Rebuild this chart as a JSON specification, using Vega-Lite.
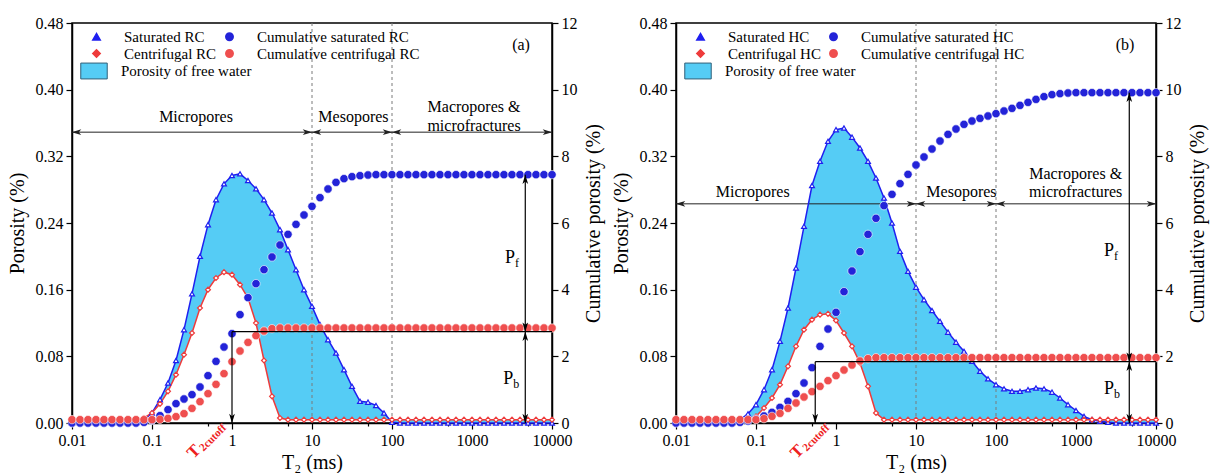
{
"$schema":"https://vega.github.io/schema/vega-lite/v6.json",
"padding":{"left":6,"top":14,"right":2,"bottom":2},
"spacing":6,
"config":{"font":"Liberation Serif","view":{"stroke":"black","strokeWidth":1.5},
 "axis":{"labelFont":"Liberation Serif","titleFont":"Liberation Serif","labelColor":"black","titleColor":"black","domainColor":"black","tickColor":"black","domainWidth":1.5,"tickWidth":1.2,"grid":false,"titleFontWeight":"normal","labelFontSize":16,"titleFontSize":20,"labelOverlap":false,"labelFlush":false},
 "legend":{"labelFont":"Liberation Serif","labelColor":"black","labelFontSize":15,"labelLimit":0}},
"datasets":{
"a":[
{"t":0.01,"s":0,"c":0.004,"cs":0,"cc":0.1},
{"t":0.01259,"s":0,"c":0.004,"cs":0,"cc":0.1},
{"t":0.01585,"s":0,"c":0.004,"cs":0,"cc":0.1},
{"t":0.01995,"s":0,"c":0.004,"cs":0,"cc":0.1},
{"t":0.02512,"s":0,"c":0.004,"cs":0,"cc":0.1},
{"t":0.03162,"s":0,"c":0.004,"cs":0,"cc":0.1},
{"t":0.03981,"s":0,"c":0.004,"cs":0,"cc":0.1},
{"t":0.05012,"s":0,"c":0.004,"cs":0,"cc":0.1},
{"t":0.0631,"s":0,"c":0.004,"cs":0,"cc":0.1},
{"t":0.07943,"s":0.003,"c":0.006,"cs":0.02,"cc":0.1},
{"t":0.1,"s":0.012,"c":0.012,"cs":0.08,"cc":0.1},
{"t":0.1259,"s":0.028,"c":0.023,"cs":0.22,"cc":0.11},
{"t":0.1585,"s":0.048,"c":0.038,"cs":0.4,"cc":0.14},
{"t":0.1995,"s":0.075,"c":0.058,"cs":0.58,"cc":0.19},
{"t":0.2512,"s":0.112,"c":0.082,"cs":0.72,"cc":0.28},
{"t":0.3162,"s":0.155,"c":0.108,"cs":0.85,"cc":0.44},
{"t":0.3981,"s":0.2,"c":0.138,"cs":1.08,"cc":0.64},
{"t":0.5012,"s":0.238,"c":0.16,"cs":1.42,"cc":0.88},
{"t":0.631,"s":0.268,"c":0.174,"cs":1.85,"cc":1.16},
{"t":0.7943,"s":0.287,"c":0.181,"cs":2.28,"cc":1.48},
{"t":1,"s":0.297,"c":0.178,"cs":2.68,"cc":1.84},
{"t":1.259,"s":0.299,"c":0.166,"cs":3.25,"cc":2.16},
{"t":1.585,"s":0.291,"c":0.15,"cs":3.76,"cc":2.42},
{"t":1.995,"s":0.281,"c":0.12,"cs":4.18,"cc":2.62},
{"t":2.512,"s":0.268,"c":0.075,"cs":4.6,"cc":2.76},
{"t":3.162,"s":0.252,"c":0.032,"cs":4.98,"cc":2.83},
{"t":3.981,"s":0.232,"c":0.006,"cs":5.34,"cc":2.85},
{"t":5.012,"s":0.208,"c":0.004,"cs":5.66,"cc":2.85},
{"t":6.31,"s":0.184,"c":0.004,"cs":5.96,"cc":2.85},
{"t":7.943,"s":0.16,"c":0.004,"cs":6.24,"cc":2.85},
{"t":10,"s":0.14,"c":0.004,"cs":6.5,"cc":2.85},
{"t":12.59,"s":0.118,"c":0.004,"cs":6.76,"cc":2.85},
{"t":15.85,"s":0.1,"c":0.004,"cs":7.02,"cc":2.85},
{"t":19.95,"s":0.084,"c":0.004,"cs":7.22,"cc":2.85},
{"t":25.12,"s":0.064,"c":0.004,"cs":7.33,"cc":2.85},
{"t":31.62,"s":0.044,"c":0.004,"cs":7.39,"cc":2.85},
{"t":39.81,"s":0.026,"c":0.004,"cs":7.42,"cc":2.85},
{"t":50.12,"s":0.025,"c":0.004,"cs":7.44,"cc":2.85},
{"t":63.1,"s":0.021,"c":0.004,"cs":7.45,"cc":2.85},
{"t":79.43,"s":0.012,"c":0.004,"cs":7.45,"cc":2.85},
{"t":100,"s":0.001,"c":0.004,"cs":7.45,"cc":2.85},
{"t":125.9,"s":0,"c":0.004,"cs":7.45,"cc":2.85},
{"t":158.5,"s":0,"c":0.004,"cs":7.45,"cc":2.85},
{"t":199.5,"s":0,"c":0.004,"cs":7.45,"cc":2.85},
{"t":251.2,"s":0,"c":0.004,"cs":7.45,"cc":2.85},
{"t":316.2,"s":0,"c":0.004,"cs":7.45,"cc":2.85},
{"t":398.1,"s":0,"c":0.004,"cs":7.45,"cc":2.85},
{"t":501.2,"s":0,"c":0.004,"cs":7.45,"cc":2.85},
{"t":631,"s":0,"c":0.004,"cs":7.45,"cc":2.85},
{"t":794.3,"s":0,"c":0.004,"cs":7.45,"cc":2.85},
{"t":1000,"s":0,"c":0.004,"cs":7.45,"cc":2.85},
{"t":1259,"s":0,"c":0.004,"cs":7.45,"cc":2.85},
{"t":1585,"s":0,"c":0.004,"cs":7.45,"cc":2.85},
{"t":1995,"s":0,"c":0.004,"cs":7.45,"cc":2.85},
{"t":2512,"s":0,"c":0.004,"cs":7.45,"cc":2.85},
{"t":3162,"s":0,"c":0.004,"cs":7.45,"cc":2.85},
{"t":3981,"s":0,"c":0.004,"cs":7.45,"cc":2.85},
{"t":5012,"s":0,"c":0.004,"cs":7.45,"cc":2.85},
{"t":6310,"s":0,"c":0.004,"cs":7.45,"cc":2.85},
{"t":7943,"s":0,"c":0.004,"cs":7.45,"cc":2.85},
{"t":10000,"s":0,"c":0.004,"cs":7.45,"cc":2.85}
],
"b":[
{"t":0.01,"s":0,"c":0.004,"cs":0,"cc":0.1},
{"t":0.01259,"s":0,"c":0.004,"cs":0,"cc":0.1},
{"t":0.01585,"s":0,"c":0.004,"cs":0,"cc":0.1},
{"t":0.01995,"s":0,"c":0.004,"cs":0,"cc":0.1},
{"t":0.02512,"s":0,"c":0.004,"cs":0,"cc":0.1},
{"t":0.03162,"s":0,"c":0.004,"cs":0,"cc":0.1},
{"t":0.03981,"s":0,"c":0.004,"cs":0,"cc":0.1},
{"t":0.05012,"s":0,"c":0.004,"cs":0,"cc":0.1},
{"t":0.0631,"s":0.004,"c":0.004,"cs":0.02,"cc":0.1},
{"t":0.07943,"s":0.011,"c":0.005,"cs":0.06,"cc":0.1},
{"t":0.1,"s":0.022,"c":0.008,"cs":0.12,"cc":0.1},
{"t":0.1259,"s":0.04,"c":0.018,"cs":0.21,"cc":0.13},
{"t":0.1585,"s":0.064,"c":0.03,"cs":0.32,"cc":0.2},
{"t":0.1995,"s":0.098,"c":0.046,"cs":0.47,"cc":0.29},
{"t":0.2512,"s":0.138,"c":0.068,"cs":0.65,"cc":0.44},
{"t":0.3162,"s":0.186,"c":0.092,"cs":0.88,"cc":0.6},
{"t":0.3981,"s":0.236,"c":0.112,"cs":1.2,"cc":0.78},
{"t":0.5012,"s":0.285,"c":0.124,"cs":1.66,"cc":0.94},
{"t":0.631,"s":0.314,"c":0.13,"cs":2.3,"cc":1.1},
{"t":0.7943,"s":0.338,"c":0.131,"cs":2.82,"cc":1.27},
{"t":1,"s":0.352,"c":0.123,"cs":3.32,"cc":1.42},
{"t":1.259,"s":0.354,"c":0.108,"cs":3.94,"cc":1.59},
{"t":1.585,"s":0.343,"c":0.092,"cs":4.56,"cc":1.74},
{"t":1.995,"s":0.33,"c":0.072,"cs":5.14,"cc":1.86},
{"t":2.512,"s":0.314,"c":0.044,"cs":5.66,"cc":1.93},
{"t":3.162,"s":0.294,"c":0.012,"cs":6.14,"cc":1.96},
{"t":3.981,"s":0.27,"c":0.004,"cs":6.52,"cc":1.96},
{"t":5.012,"s":0.24,"c":0.004,"cs":6.86,"cc":1.96},
{"t":6.31,"s":0.206,"c":0.004,"cs":7.18,"cc":1.96},
{"t":7.943,"s":0.182,"c":0.004,"cs":7.46,"cc":1.96},
{"t":10,"s":0.163,"c":0.004,"cs":7.74,"cc":1.96},
{"t":12.59,"s":0.148,"c":0.004,"cs":7.98,"cc":1.96},
{"t":15.85,"s":0.135,"c":0.004,"cs":8.22,"cc":1.96},
{"t":19.95,"s":0.122,"c":0.004,"cs":8.46,"cc":1.96},
{"t":25.12,"s":0.109,"c":0.004,"cs":8.66,"cc":1.96},
{"t":31.62,"s":0.097,"c":0.004,"cs":8.82,"cc":1.96},
{"t":39.81,"s":0.086,"c":0.004,"cs":8.96,"cc":1.96},
{"t":50.12,"s":0.074,"c":0.004,"cs":9.06,"cc":1.96},
{"t":63.1,"s":0.062,"c":0.004,"cs":9.14,"cc":1.96},
{"t":79.43,"s":0.053,"c":0.004,"cs":9.21,"cc":1.96},
{"t":100,"s":0.046,"c":0.004,"cs":9.28,"cc":1.96},
{"t":125.9,"s":0.041,"c":0.004,"cs":9.36,"cc":1.96},
{"t":158.5,"s":0.038,"c":0.004,"cs":9.44,"cc":1.96},
{"t":199.5,"s":0.038,"c":0.004,"cs":9.53,"cc":1.96},
{"t":251.2,"s":0.04,"c":0.004,"cs":9.62,"cc":1.96},
{"t":316.2,"s":0.042,"c":0.004,"cs":9.71,"cc":1.96},
{"t":398.1,"s":0.041,"c":0.004,"cs":9.79,"cc":1.96},
{"t":501.2,"s":0.037,"c":0.004,"cs":9.85,"cc":1.96},
{"t":631,"s":0.03,"c":0.004,"cs":9.88,"cc":1.96},
{"t":794.3,"s":0.022,"c":0.004,"cs":9.9,"cc":1.96},
{"t":1000,"s":0.015,"c":0.004,"cs":9.91,"cc":1.96},
{"t":1259,"s":0.008,"c":0.004,"cs":9.91,"cc":1.96},
{"t":1585,"s":0.004,"c":0.004,"cs":9.91,"cc":1.96},
{"t":1995,"s":0.002,"c":0.004,"cs":9.91,"cc":1.96},
{"t":2512,"s":0.001,"c":0.004,"cs":9.91,"cc":1.96},
{"t":3162,"s":0,"c":0.004,"cs":9.91,"cc":1.96},
{"t":3981,"s":0,"c":0.004,"cs":9.91,"cc":1.96},
{"t":5012,"s":0,"c":0.004,"cs":9.91,"cc":1.96},
{"t":6310,"s":0,"c":0.004,"cs":9.91,"cc":1.96},
{"t":7943,"s":0,"c":0.004,"cs":9.91,"cc":1.96},
{"t":10000,"s":0,"c":0.004,"cs":9.91,"cc":1.96}
]},
"hconcat":[
{"width":480,"height":400,"data":{"name":"a"},
 "layer":[
  {"layer":[
   {"mark":{"type":"area","opacity":1,"strokeWidth":0},
    "encoding":{
     "x":{"field":"t","type":"quantitative","scale":{"type":"log","domain":[0.01,10000],"nice":false},
      "axis":{"title":"T₂ (ms)","values":[0.01,0.05,0.1,0.5,1,5,10,50,100,500,1000,5000,10000],"format":"~g","labelExpr":"abs(log(datum.value)/LN10-round(log(datum.value)/LN10))<0.01 ? datum.label : ''","tickSize":{"condition":{"test":"abs(log(datum.value)/LN10-round(log(datum.value)/LN10))<0.01","value":6},"value":3},"labelPadding":3,"titlePadding":4}},
     "y":{"field":"s","type":"quantitative","scale":{"domain":[0,0.48],"nice":false,"zero":false},
      "axis":{"title":"Porosity (%)","values":[0,0.04,0.08,0.12,0.16,0.2,0.24,0.28,0.32,0.36,0.4,0.44,0.48],"format":".2f","labelExpr":"abs(datum.value/0.08-round(datum.value/0.08))<0.01 ? datum.label : ''","tickSize":{"condition":{"test":"abs(datum.value/0.08-round(datum.value/0.08))<0.01","value":6},"value":3},"labelPadding":3,"titlePadding":8}},
     "y2":{"field":"c"},
     "fill":{"datum":"Porosity of free water","type":"nominal","scale":{"range":["#55ccf5"]},
      "legend":{"orient":"none","legendX":8,"legendY":34,"title":null,"symbolType":"M-1,-0.6H1V0.6H-1Z","symbolSize":700,"symbolStrokeColor":"#2f5f78","symbolStrokeWidth":1,"labelOffset":13,"labelFontSize":15}}}},
   {"data":{"values":[{"t":10},{"t":100}]},
    "mark":{"type":"rule","color":"#7a7a7a","strokeDash":[3,3],"strokeWidth":1},
    "encoding":{"x":{"field":"t","type":"quantitative","scale":{"type":"log","domain":[0.01,10000],"nice":false}}}},
   {"data":{"values":[{"t":0.01,"t2":10,"y":0.349},{"t":10,"t2":100,"y":0.349},{"t":100,"t2":10000,"y":0.349}]},
    "mark":{"type":"rule","color":"#222","strokeWidth":1},
    "encoding":{"x":{"field":"t","type":"quantitative","scale":{"type":"log","domain":[0.01,10000],"nice":false}},"x2":{"field":"t2"},
     "y":{"field":"y","type":"quantitative","scale":{"domain":[0,0.48],"nice":false,"zero":false}}}},
   {"data":{"values":[{"t":10,"y":0.349},{"t":100,"y":0.349},{"t":10000,"y":0.349}]},
    "mark":{"type":"point","shape":"M1,0L-1,-0.6L-0.5,0L-1,0.6Z","size":90,"filled":true,"color":"#222","opacity":1,"xOffset":-4.5},
    "encoding":{"x":{"field":"t","type":"quantitative","scale":{"type":"log","domain":[0.01,10000],"nice":false}},
     "y":{"field":"y","type":"quantitative","scale":{"domain":[0,0.48],"nice":false,"zero":false}}}},
   {"data":{"values":[{"t":0.01,"y":0.349},{"t":10,"y":0.349},{"t":100,"y":0.349}]},
    "mark":{"type":"point","shape":"M-1,0L1,-0.6L0.5,0L1,0.6Z","size":90,"filled":true,"color":"#222","opacity":1,"xOffset":4.5},
    "encoding":{"x":{"field":"t","type":"quantitative","scale":{"type":"log","domain":[0.01,10000],"nice":false}},
     "y":{"field":"y","type":"quantitative","scale":{"domain":[0,0.48],"nice":false,"zero":false}}}},
   {"data":{"values":[{"t":0.355,"y":0.367,"txt":"Micropores"},{"t":33,"y":0.367,"txt":"Mesopores"},{"t":1060,"y":0.379,"txt":"Macropores &"},{"t":1060,"y":0.357,"txt":"microfractures"},{"t":4100,"y":0.454,"txt":"(a)"}]},
    "mark":{"type":"text","fontSize":16,"color":"black","baseline":"middle","align":"center"},
    "encoding":{"x":{"field":"t","type":"quantitative","scale":{"type":"log","domain":[0.01,10000],"nice":false}},
     "y":{"field":"y","type":"quantitative","scale":{"domain":[0,0.48],"nice":false,"zero":false}},"text":{"field":"txt"}}},
   {"data":{"values":[{"t":0.46,"y":-0.021,"m":"T","u":"2cutoff"}]},
    "mark":{"type":"text","fontSize":17,"fontWeight":"bold","color":"#ee2020","angle":315,"align":"right","baseline":"middle","dx":-10},
    "encoding":{"x":{"field":"t","type":"quantitative","scale":{"type":"log","domain":[0.01,10000],"nice":false}},
     "y":{"field":"y","type":"quantitative","scale":{"domain":[0,0.48],"nice":false,"zero":false}},"text":{"field":"m"}}},
   {"data":{"values":[{"t":0.46,"y":-0.021,"m":"T","u":"2cutoff"}]},
    "mark":{"type":"text","fontSize":11,"fontWeight":"bold","color":"#ee2020","angle":315,"align":"left","baseline":"middle","dx":-9,"dy":4},
    "encoding":{"x":{"field":"t","type":"quantitative","scale":{"type":"log","domain":[0.01,10000],"nice":false}},
     "y":{"field":"y","type":"quantitative","scale":{"domain":[0,0.48],"nice":false,"zero":false}},"text":{"field":"u"}}},
   {"transform":[{"fold":["s","c"],"as":["key","value"]}],
    "mark":{"type":"line","strokeWidth":1.5},
    "encoding":{"x":{"field":"t","type":"quantitative","scale":{"type":"log","domain":[0.01,10000],"nice":false}},
     "y":{"field":"value","type":"quantitative","scale":{"domain":[0,0.48],"nice":false,"zero":false}},
     "color":{"field":"key","type":"nominal","scale":{"domain":["s","c","cs","cc"],"range":["#1f1ff0","#ee3b3b","#2323d8","#ef4f4f"]},
      "legend":{"orient":"none","legendX":17,"legendY":6,"title":null,"columns":2,"columnPadding":5,"rowPadding":1,"symbolSize":55,"symbolStrokeWidth":1.5,"labelOffset":20,"labelFontSize":15,"labelExpr":"datum.label=='s'?'Saturated RC':datum.label=='cs'?'Cumulative saturated RC':datum.label=='c'?'Centrifugal RC':'Cumulative centrifugal RC'"}}}},
   {"transform":[{"fold":["s","c"],"as":["key","value"]}],
    "mark":{"type":"point","filled":false,"fill":"white","size":24,"strokeWidth":1.2,"opacity":1},
    "encoding":{"x":{"field":"t","type":"quantitative","scale":{"type":"log","domain":[0.01,10000],"nice":false}},
     "y":{"field":"value","type":"quantitative","scale":{"domain":[0,0.48],"nice":false,"zero":false}},
     "color":{"field":"key","type":"nominal","scale":{"domain":["s","c","cs","cc"],"range":["#1f1ff0","#ee3b3b","#2323d8","#ef4f4f"]},
      "legend":{"orient":"none","legendX":17,"legendY":6,"title":null,"columns":2,"columnPadding":5,"rowPadding":1,"symbolSize":55,"symbolStrokeWidth":1.5,"labelOffset":20,"labelFontSize":15,"labelExpr":"datum.label=='s'?'Saturated RC':datum.label=='cs'?'Cumulative saturated RC':datum.label=='c'?'Centrifugal RC':'Cumulative centrifugal RC'"}},
     "shape":{"field":"key","type":"nominal","scale":{"domain":["s","c","cs","cc"],"range":["triangle-up","diamond","circle","circle"]},
      "legend":{"orient":"none","legendX":17,"legendY":6,"title":null,"columns":2,"columnPadding":5,"rowPadding":1,"symbolSize":55,"symbolStrokeWidth":1.5,"labelOffset":20,"labelFontSize":15,"labelExpr":"datum.label=='s'?'Saturated RC':datum.label=='cs'?'Cumulative saturated RC':datum.label=='c'?'Centrifugal RC':'Cumulative centrifugal RC'"}}}}
  ]},
  {"layer":[
   {"transform":[{"fold":["cs","cc"],"as":["key","value"]}],
    "mark":{"type":"point","filled":true,"size":70,"stroke":"white","strokeWidth":0.6,"opacity":1},
    "encoding":{"x":{"field":"t","type":"quantitative","scale":{"type":"log","domain":[0.01,10000],"nice":false}},
     "y":{"field":"value","type":"quantitative","scale":{"domain":[0,12],"nice":false},
      "axis":{"orient":"right","title":"Cumulative porosity (%)","values":[0,1,2,3,4,5,6,7,8,9,10,11,12],"format":"d","labelExpr":"datum.value%2==0 ? datum.label : ''","tickSize":{"condition":{"test":"datum.value%2==0","value":6},"value":3},"labelPadding":3,"titlePadding":6,"titleAngle":270,"titleBaseline":"top"}},
     "color":{"field":"key","type":"nominal","scale":{"domain":["s","c","cs","cc"],"range":["#1f1ff0","#ee3b3b","#2323d8","#ef4f4f"]},
      "legend":{"orient":"none","legendX":17,"legendY":6,"title":null,"columns":2,"columnPadding":5,"rowPadding":1,"symbolSize":55,"symbolStrokeWidth":1.5,"labelOffset":20,"labelFontSize":15,"labelExpr":"datum.label=='s'?'Saturated RC':datum.label=='cs'?'Cumulative saturated RC':datum.label=='c'?'Centrifugal RC':'Cumulative centrifugal RC'"}},
     "shape":{"field":"key","type":"nominal","scale":{"domain":["s","c","cs","cc"],"range":["triangle-up","diamond","circle","circle"]},
      "legend":{"orient":"none","legendX":17,"legendY":6,"title":null,"columns":2,"columnPadding":5,"rowPadding":1,"symbolSize":55,"symbolStrokeWidth":1.5,"labelOffset":20,"labelFontSize":15,"labelExpr":"datum.label=='s'?'Saturated RC':datum.label=='cs'?'Cumulative saturated RC':datum.label=='c'?'Centrifugal RC':'Cumulative centrifugal RC'"}}}},
   {"data":{"values":[{"t":1,"t2":10000,"y":2.74,"y2":2.74},{"t":1,"t2":1,"y":2.74,"y2":0},{"t":4634,"t2":4634,"y":7.45,"y2":2.74},{"t":4634,"t2":4634,"y":2.74,"y2":0}]},
    "mark":{"type":"rule","color":"black","strokeWidth":1.2},
    "encoding":{"x":{"field":"t","type":"quantitative","scale":{"type":"log","domain":[0.01,10000],"nice":false}},"x2":{"field":"t2"},
     "y":{"field":"y","type":"quantitative","scale":{"domain":[0,12],"nice":false}},"y2":{"field":"y2"}}},
   {"data":{"values":[{"t":1,"y":0},{"t":4634,"y":2.74},{"t":4634,"y":0}]},
    "mark":{"type":"point","shape":"M0,1L-0.6,-1L0,-0.5L0.6,-1Z","size":90,"filled":true,"color":"black","opacity":1,"yOffset":-4.5},
    "encoding":{"x":{"field":"t","type":"quantitative","scale":{"type":"log","domain":[0.01,10000],"nice":false}},
     "y":{"field":"y","type":"quantitative","scale":{"domain":[0,12],"nice":false}}}},
   {"data":{"values":[{"t":4634,"y":7.45},{"t":4634,"y":2.74}]},
    "mark":{"type":"point","shape":"M0,-1L-0.6,1L0,0.5L0.6,1Z","size":90,"filled":true,"color":"black","opacity":1,"yOffset":4.5},
    "encoding":{"x":{"field":"t","type":"quantitative","scale":{"type":"log","domain":[0.01,10000],"nice":false}},
     "y":{"field":"y","type":"quantitative","scale":{"domain":[0,12],"nice":false}}}},
   {"data":{"values":[{"t":3250,"y":4.96,"m":"P","u":"f"},{"t":3090,"y":1.32,"m":"P","u":"b"}]},
    "mark":{"type":"text","fontSize":18,"color":"black","align":"right","baseline":"middle","dx":2},
    "encoding":{"x":{"field":"t","type":"quantitative","scale":{"type":"log","domain":[0.01,10000],"nice":false}},
     "y":{"field":"y","type":"quantitative","scale":{"domain":[0,12],"nice":false}},"text":{"field":"m"}}},
   {"data":{"values":[{"t":3250,"y":4.96,"m":"P","u":"f"},{"t":3090,"y":1.32,"m":"P","u":"b"}]},
    "mark":{"type":"text","fontSize":12,"color":"black","align":"left","baseline":"middle","dx":2,"dy":5},
    "encoding":{"x":{"field":"t","type":"quantitative","scale":{"type":"log","domain":[0.01,10000],"nice":false}},
     "y":{"field":"y","type":"quantitative","scale":{"domain":[0,12],"nice":false}},"text":{"field":"u"}}}
  ]}
 ],
 "resolve":{"scale":{"y":"independent"}}
},
{"width":480,"height":400,"data":{"name":"b"},
 "layer":[
  {"layer":[
   {"mark":{"type":"area","opacity":1,"strokeWidth":0},
    "encoding":{
     "x":{"field":"t","type":"quantitative","scale":{"type":"log","domain":[0.01,10000],"nice":false},
      "axis":{"title":"T₂ (ms)","values":[0.01,0.05,0.1,0.5,1,5,10,50,100,500,1000,5000,10000],"format":"~g","labelExpr":"abs(log(datum.value)/LN10-round(log(datum.value)/LN10))<0.01 ? datum.label : ''","tickSize":{"condition":{"test":"abs(log(datum.value)/LN10-round(log(datum.value)/LN10))<0.01","value":6},"value":3},"labelPadding":3,"titlePadding":4}},
     "y":{"field":"s","type":"quantitative","scale":{"domain":[0,0.48],"nice":false,"zero":false},
      "axis":{"title":"Porosity (%)","values":[0,0.04,0.08,0.12,0.16,0.2,0.24,0.28,0.32,0.36,0.4,0.44,0.48],"format":".2f","labelExpr":"abs(datum.value/0.08-round(datum.value/0.08))<0.01 ? datum.label : ''","tickSize":{"condition":{"test":"abs(datum.value/0.08-round(datum.value/0.08))<0.01","value":6},"value":3},"labelPadding":3,"titlePadding":8}},
     "y2":{"field":"c"},
     "fill":{"datum":"Porosity of free water","type":"nominal","scale":{"range":["#55ccf5"]},
      "legend":{"orient":"none","legendX":8,"legendY":34,"title":null,"symbolType":"M-1,-0.6H1V0.6H-1Z","symbolSize":700,"symbolStrokeColor":"#2f5f78","symbolStrokeWidth":1,"labelOffset":13,"labelFontSize":15}}}},
   {"data":{"values":[{"t":10},{"t":100}]},
    "mark":{"type":"rule","color":"#7a7a7a","strokeDash":[3,3],"strokeWidth":1},
    "encoding":{"x":{"field":"t","type":"quantitative","scale":{"type":"log","domain":[0.01,10000],"nice":false}}}},
   {"data":{"values":[{"t":0.01,"t2":10,"y":0.263},{"t":10,"t2":100,"y":0.263},{"t":100,"t2":10000,"y":0.263}]},
    "mark":{"type":"rule","color":"#222","strokeWidth":1},
    "encoding":{"x":{"field":"t","type":"quantitative","scale":{"type":"log","domain":[0.01,10000],"nice":false}},"x2":{"field":"t2"},
     "y":{"field":"y","type":"quantitative","scale":{"domain":[0,0.48],"nice":false,"zero":false}}}},
   {"data":{"values":[{"t":10,"y":0.263},{"t":100,"y":0.263},{"t":10000,"y":0.263}]},
    "mark":{"type":"point","shape":"M1,0L-1,-0.6L-0.5,0L-1,0.6Z","size":90,"filled":true,"color":"#222","opacity":1,"xOffset":-4.5},
    "encoding":{"x":{"field":"t","type":"quantitative","scale":{"type":"log","domain":[0.01,10000],"nice":false}},
     "y":{"field":"y","type":"quantitative","scale":{"domain":[0,0.48],"nice":false,"zero":false}}}},
   {"data":{"values":[{"t":0.01,"y":0.263},{"t":10,"y":0.263},{"t":100,"y":0.263}]},
    "mark":{"type":"point","shape":"M-1,0L1,-0.6L0.5,0L1,0.6Z","size":90,"filled":true,"color":"#222","opacity":1,"xOffset":4.5},
    "encoding":{"x":{"field":"t","type":"quantitative","scale":{"type":"log","domain":[0.01,10000],"nice":false}},
     "y":{"field":"y","type":"quantitative","scale":{"domain":[0,0.48],"nice":false,"zero":false}}}},
   {"data":{"values":[{"t":0.091,"y":0.277,"txt":"Micropores"},{"t":37,"y":0.277,"txt":"Mesopores"},{"t":990,"y":0.299,"txt":"Macropores &"},{"t":990,"y":0.277,"txt":"microfractures"},{"t":4100,"y":0.454,"txt":"(b)"}]},
    "mark":{"type":"text","fontSize":16,"color":"black","baseline":"middle","align":"center"},
    "encoding":{"x":{"field":"t","type":"quantitative","scale":{"type":"log","domain":[0.01,10000],"nice":false}},
     "y":{"field":"y","type":"quantitative","scale":{"domain":[0,0.48],"nice":false,"zero":false}},"text":{"field":"txt"}}},
   {"data":{"values":[{"t":0.45,"y":-0.021,"m":"T","u":"2cutoff"}]},
    "mark":{"type":"text","fontSize":17,"fontWeight":"bold","color":"#ee2020","angle":315,"align":"right","baseline":"middle","dx":-10},
    "encoding":{"x":{"field":"t","type":"quantitative","scale":{"type":"log","domain":[0.01,10000],"nice":false}},
     "y":{"field":"y","type":"quantitative","scale":{"domain":[0,0.48],"nice":false,"zero":false}},"text":{"field":"m"}}},
   {"data":{"values":[{"t":0.45,"y":-0.021,"m":"T","u":"2cutoff"}]},
    "mark":{"type":"text","fontSize":11,"fontWeight":"bold","color":"#ee2020","angle":315,"align":"left","baseline":"middle","dx":-9,"dy":4},
    "encoding":{"x":{"field":"t","type":"quantitative","scale":{"type":"log","domain":[0.01,10000],"nice":false}},
     "y":{"field":"y","type":"quantitative","scale":{"domain":[0,0.48],"nice":false,"zero":false}},"text":{"field":"u"}}},
   {"transform":[{"fold":["s","c"],"as":["key","value"]}],
    "mark":{"type":"line","strokeWidth":1.5},
    "encoding":{"x":{"field":"t","type":"quantitative","scale":{"type":"log","domain":[0.01,10000],"nice":false}},
     "y":{"field":"value","type":"quantitative","scale":{"domain":[0,0.48],"nice":false,"zero":false}},
     "color":{"field":"key","type":"nominal","scale":{"domain":["s","c","cs","cc"],"range":["#1f1ff0","#ee3b3b","#2323d8","#ef4f4f"]},
      "legend":{"orient":"none","legendX":17,"legendY":6,"title":null,"columns":2,"columnPadding":5,"rowPadding":1,"symbolSize":55,"symbolStrokeWidth":1.5,"labelOffset":20,"labelFontSize":15,"labelExpr":"datum.label=='s'?'Saturated HC':datum.label=='cs'?'Cumulative saturated HC':datum.label=='c'?'Centrifugal HC':'Cumulative centrifugal HC'"}}}},
   {"transform":[{"fold":["s","c"],"as":["key","value"]}],
    "mark":{"type":"point","filled":false,"fill":"white","size":24,"strokeWidth":1.2,"opacity":1},
    "encoding":{"x":{"field":"t","type":"quantitative","scale":{"type":"log","domain":[0.01,10000],"nice":false}},
     "y":{"field":"value","type":"quantitative","scale":{"domain":[0,0.48],"nice":false,"zero":false}},
     "color":{"field":"key","type":"nominal","scale":{"domain":["s","c","cs","cc"],"range":["#1f1ff0","#ee3b3b","#2323d8","#ef4f4f"]},
      "legend":{"orient":"none","legendX":17,"legendY":6,"title":null,"columns":2,"columnPadding":5,"rowPadding":1,"symbolSize":55,"symbolStrokeWidth":1.5,"labelOffset":20,"labelFontSize":15,"labelExpr":"datum.label=='s'?'Saturated HC':datum.label=='cs'?'Cumulative saturated HC':datum.label=='c'?'Centrifugal HC':'Cumulative centrifugal HC'"}},
     "shape":{"field":"key","type":"nominal","scale":{"domain":["s","c","cs","cc"],"range":["triangle-up","diamond","circle","circle"]},
      "legend":{"orient":"none","legendX":17,"legendY":6,"title":null,"columns":2,"columnPadding":5,"rowPadding":1,"symbolSize":55,"symbolStrokeWidth":1.5,"labelOffset":20,"labelFontSize":15,"labelExpr":"datum.label=='s'?'Saturated HC':datum.label=='cs'?'Cumulative saturated HC':datum.label=='c'?'Centrifugal HC':'Cumulative centrifugal HC'"}}}}
  ]},
  {"layer":[
   {"transform":[{"fold":["cs","cc"],"as":["key","value"]}],
    "mark":{"type":"point","filled":true,"size":70,"stroke":"white","strokeWidth":0.6,"opacity":1},
    "encoding":{"x":{"field":"t","type":"quantitative","scale":{"type":"log","domain":[0.01,10000],"nice":false}},
     "y":{"field":"value","type":"quantitative","scale":{"domain":[0,12],"nice":false},
      "axis":{"orient":"right","title":"Cumulative porosity (%)","values":[0,1,2,3,4,5,6,7,8,9,10,11,12],"format":"d","labelExpr":"datum.value%2==0 ? datum.label : ''","tickSize":{"condition":{"test":"datum.value%2==0","value":6},"value":3},"labelPadding":3,"titlePadding":6,"titleAngle":270,"titleBaseline":"top"}},
     "color":{"field":"key","type":"nominal","scale":{"domain":["s","c","cs","cc"],"range":["#1f1ff0","#ee3b3b","#2323d8","#ef4f4f"]},
      "legend":{"orient":"none","legendX":17,"legendY":6,"title":null,"columns":2,"columnPadding":5,"rowPadding":1,"symbolSize":55,"symbolStrokeWidth":1.5,"labelOffset":20,"labelFontSize":15,"labelExpr":"datum.label=='s'?'Saturated HC':datum.label=='cs'?'Cumulative saturated HC':datum.label=='c'?'Centrifugal HC':'Cumulative centrifugal HC'"}},
     "shape":{"field":"key","type":"nominal","scale":{"domain":["s","c","cs","cc"],"range":["triangle-up","diamond","circle","circle"]},
      "legend":{"orient":"none","legendX":17,"legendY":6,"title":null,"columns":2,"columnPadding":5,"rowPadding":1,"symbolSize":55,"symbolStrokeWidth":1.5,"labelOffset":20,"labelFontSize":15,"labelExpr":"datum.label=='s'?'Saturated HC':datum.label=='cs'?'Cumulative saturated HC':datum.label=='c'?'Centrifugal HC':'Cumulative centrifugal HC'"}}}},
   {"data":{"values":[{"t":0.55,"t2":10000,"y":1.84,"y2":1.84},{"t":0.55,"t2":0.55,"y":1.84,"y2":0},{"t":4634,"t2":4634,"y":9.91,"y2":1.84},{"t":4634,"t2":4634,"y":1.84,"y2":0}]},
    "mark":{"type":"rule","color":"black","strokeWidth":1.2},
    "encoding":{"x":{"field":"t","type":"quantitative","scale":{"type":"log","domain":[0.01,10000],"nice":false}},"x2":{"field":"t2"},
     "y":{"field":"y","type":"quantitative","scale":{"domain":[0,12],"nice":false}},"y2":{"field":"y2"}}},
   {"data":{"values":[{"t":0.55,"y":0},{"t":4634,"y":1.84},{"t":4634,"y":0}]},
    "mark":{"type":"point","shape":"M0,1L-0.6,-1L0,-0.5L0.6,-1Z","size":90,"filled":true,"color":"black","opacity":1,"yOffset":-4.5},
    "encoding":{"x":{"field":"t","type":"quantitative","scale":{"type":"log","domain":[0.01,10000],"nice":false}},
     "y":{"field":"y","type":"quantitative","scale":{"domain":[0,12],"nice":false}}}},
   {"data":{"values":[{"t":4634,"y":9.91},{"t":4634,"y":1.84}]},
    "mark":{"type":"point","shape":"M0,-1L-0.6,1L0,0.5L0.6,1Z","size":90,"filled":true,"color":"black","opacity":1,"yOffset":4.5},
    "encoding":{"x":{"field":"t","type":"quantitative","scale":{"type":"log","domain":[0.01,10000],"nice":false}},
     "y":{"field":"y","type":"quantitative","scale":{"domain":[0,12],"nice":false}}}},
   {"data":{"values":[{"t":2820,"y":5.16,"m":"P","u":"f"},{"t":2820,"y":1.02,"m":"P","u":"b"}]},
    "mark":{"type":"text","fontSize":18,"color":"black","align":"right","baseline":"middle","dx":2},
    "encoding":{"x":{"field":"t","type":"quantitative","scale":{"type":"log","domain":[0.01,10000],"nice":false}},
     "y":{"field":"y","type":"quantitative","scale":{"domain":[0,12],"nice":false}},"text":{"field":"m"}}},
   {"data":{"values":[{"t":2820,"y":5.16,"m":"P","u":"f"},{"t":2820,"y":1.02,"m":"P","u":"b"}]},
    "mark":{"type":"text","fontSize":12,"color":"black","align":"left","baseline":"middle","dx":2,"dy":5},
    "encoding":{"x":{"field":"t","type":"quantitative","scale":{"type":"log","domain":[0.01,10000],"nice":false}},
     "y":{"field":"y","type":"quantitative","scale":{"domain":[0,12],"nice":false}},"text":{"field":"u"}}}
  ]}
 ],
 "resolve":{"scale":{"y":"independent"}}
}
],
"resolve":{"scale":{"color":"independent","shape":"independent","fill":"independent"},"legend":{"color":"independent","shape":"independent","fill":"independent"}}
}
